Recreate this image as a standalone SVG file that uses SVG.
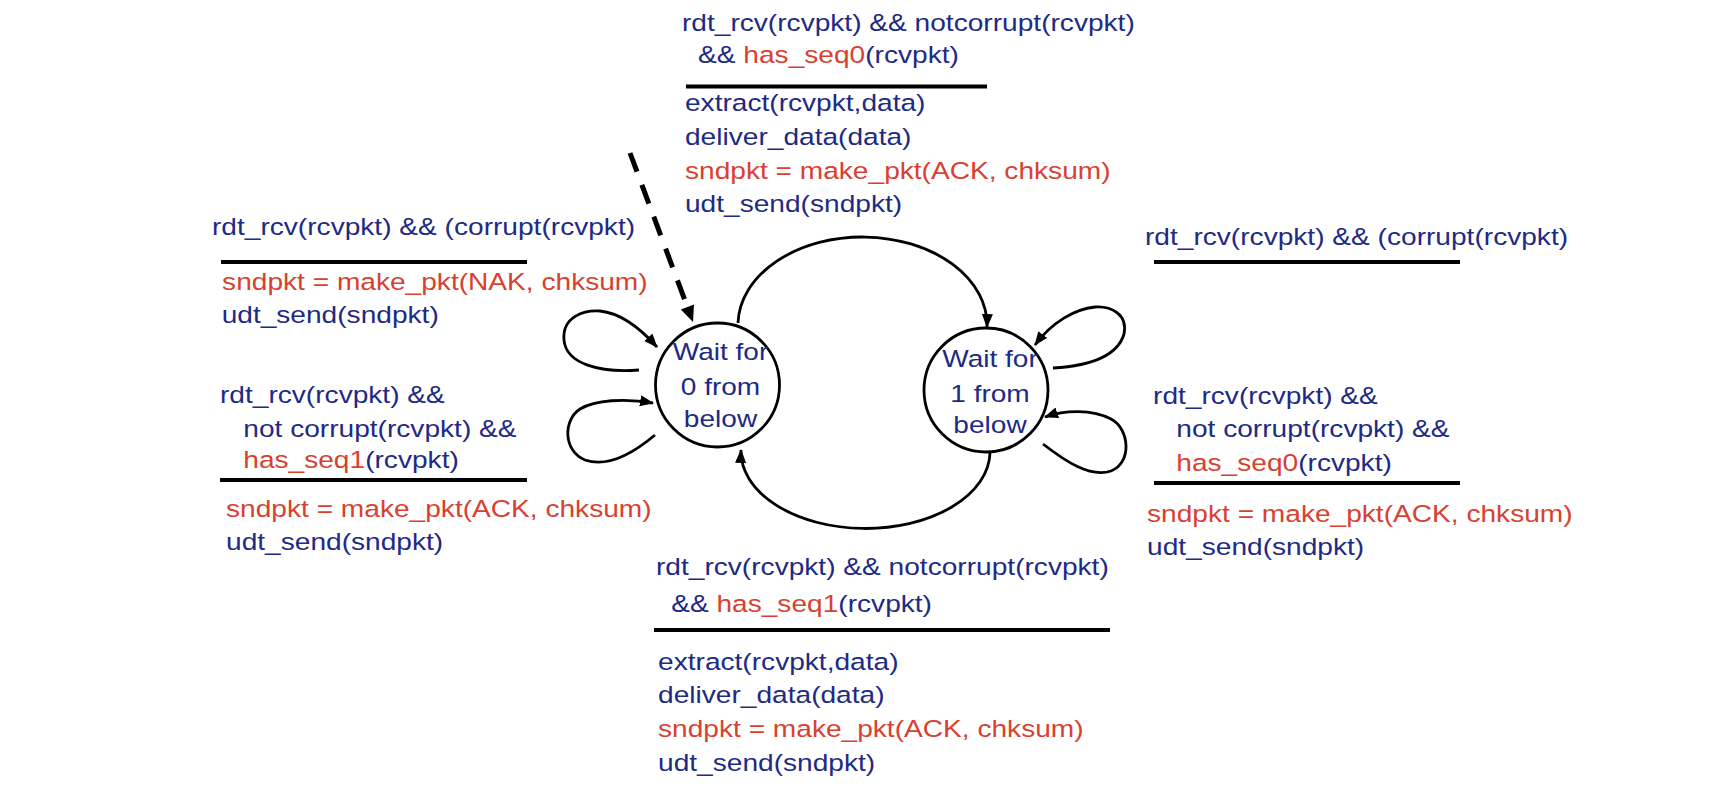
<svg xmlns="http://www.w3.org/2000/svg" width="1714" height="798" viewBox="0 0 1714 798">
<style>
.t{font-family:"Liberation Sans",Arial,Helvetica,sans-serif;font-size:24.5px;fill:#1e2a84}
.r{fill:#d8412f}
.bar{stroke:#000;stroke-width:4;fill:none}
.edge{fill:none;stroke:#000;stroke-width:2.8;marker-end:url(#arr)}
.state{fill:#fff;stroke:#000;stroke-width:2.8}
.init{fill:none;stroke:#000;stroke-width:5;stroke-dasharray:20 14}
</style>
<defs>
<marker id="arr" markerUnits="userSpaceOnUse" markerWidth="16" markerHeight="12" refX="13" refY="5.5" orient="auto">
<path d="M0,0 L14,5.5 L0,11 z" fill="#000"/>
</marker>
</defs>
<rect width="1714" height="798" fill="#fff"/>

<g id="connectors">
<path class="init" d="M630,153 L684.8,300.1"/>
<polygon points="693,322 680.8,309.4 694,304.6" fill="#000"/>
<path id="e0to1" class="edge" d="M738,323 A124.5,88 0 0 1 987,327"/>
<path id="e1to0" class="edge" d="M990,453 A124.5,77 0 0 1 741,450"/>
<path id="loop0a" class="edge" d="M639,370 C600,373 566,364 564,340 C562,316 585,310 600,311 C620,313 640,328 657,347"/>
<path id="loop0b" class="edge" d="M655,435 C630,456 605,467 585,460 C563,451 563,420 580,409 C595,400 625,398 653,403"/>
<path id="loop1a" class="edge" d="M1053,368 C1087,366 1117,358 1124,334 C1128,314 1111,306 1095,307 C1075,309 1052,322 1035,345"/>
<path id="loop1b" class="edge" d="M1043,444 C1065,461 1090,478 1111,471 C1132,463 1130,429 1111,419 C1092,409 1065,410 1045,417"/>
</g>

<g id="state0">
<circle class="state" cx="717.5" cy="385" r="62"/>
<g transform="translate(720.5,0) scale(1.145,1)" class="t" text-anchor="middle">
<text x="0" y="360">Wait for</text>
<text x="0" y="395">0 from</text>
<text x="0" y="427">below</text>
</g>
</g>

<g id="state1">
<circle class="state" cx="986" cy="390" r="62"/>
<g transform="translate(990,0) scale(1.145,1)" class="t" text-anchor="middle">
<text x="0" y="367">Wait for</text>
<text x="0" y="402">1 from</text>
<text x="0" y="433">below</text>
</g>
</g>

<g id="label-top">
<g transform="translate(682,0) scale(1.147,1)" class="t">
<text x="0" y="31">rdt_rcv(rcvpkt) &amp;&amp; notcorrupt(rcvpkt)</text>
<text x="14" y="63">&amp;&amp; <tspan class="r">has_seq0</tspan>(rcvpkt)</text>
<text x="2.6" y="111">extract(rcvpkt,data)</text>
<text x="2.6" y="145">deliver_data(data)</text>
<text x="2.6" y="179" class="r">sndpkt = make_pkt(ACK, chksum)</text>
<text x="2.6" y="212">udt_send(sndpkt)</text>
</g>
<line class="bar" x1="686" y1="86.5" x2="987" y2="86.5"/>
</g>

<g id="label-left-upper">
<g transform="translate(212,0) scale(1.147,1)" class="t">
<text x="0" y="235">rdt_rcv(rcvpkt) &amp;&amp; (corrupt(rcvpkt)</text>
<text x="8.8" y="290" class="r">sndpkt = make_pkt(NAK, chksum)</text>
<text x="8.4" y="323">udt_send(sndpkt)</text>
</g>
<line class="bar" x1="221" y1="262" x2="527" y2="262"/>
</g>

<g id="label-left-lower">
<g transform="translate(220,0) scale(1.147,1)" class="t">
<text x="0" y="403">rdt_rcv(rcvpkt) &amp;&amp;</text>
<text x="20.3" y="437">not corrupt(rcvpkt) &amp;&amp;</text>
<text x="20.3" y="468"><tspan class="r">has_seq1</tspan>(rcvpkt)</text>
<text x="5.3" y="517" class="r">sndpkt = make_pkt(ACK, chksum)</text>
<text x="5.3" y="550">udt_send(sndpkt)</text>
</g>
<line class="bar" x1="220" y1="480" x2="527" y2="480"/>
</g>

<g id="label-right">
<g transform="translate(1145,0) scale(1.147,1)" class="t">
<text x="0" y="245">rdt_rcv(rcvpkt) &amp;&amp; (corrupt(rcvpkt)</text>
<text x="7" y="404">rdt_rcv(rcvpkt) &amp;&amp;</text>
<text x="27.3" y="437">not corrupt(rcvpkt) &amp;&amp;</text>
<text x="27.3" y="471"><tspan class="r">has_seq0</tspan>(rcvpkt)</text>
<text x="1.8" y="522" class="r">sndpkt = make_pkt(ACK, chksum)</text>
<text x="1.8" y="555">udt_send(sndpkt)</text>
</g>
<line class="bar" x1="1154" y1="262" x2="1460" y2="262"/>
<line class="bar" x1="1154" y1="483" x2="1460" y2="483"/>
</g>

<g id="label-bottom">
<g transform="translate(656,0) scale(1.147,1)" class="t">
<text x="0" y="575">rdt_rcv(rcvpkt) &amp;&amp; notcorrupt(rcvpkt)</text>
<text x="13.2" y="612">&amp;&amp; <tspan class="r">has_seq1</tspan>(rcvpkt)</text>
<text x="1.8" y="670">extract(rcvpkt,data)</text>
<text x="1.8" y="703">deliver_data(data)</text>
<text x="1.8" y="737" class="r">sndpkt = make_pkt(ACK, chksum)</text>
<text x="1.8" y="771">udt_send(sndpkt)</text>
</g>
<line class="bar" x1="654" y1="630" x2="1110" y2="630"/>
</g>
</svg>
